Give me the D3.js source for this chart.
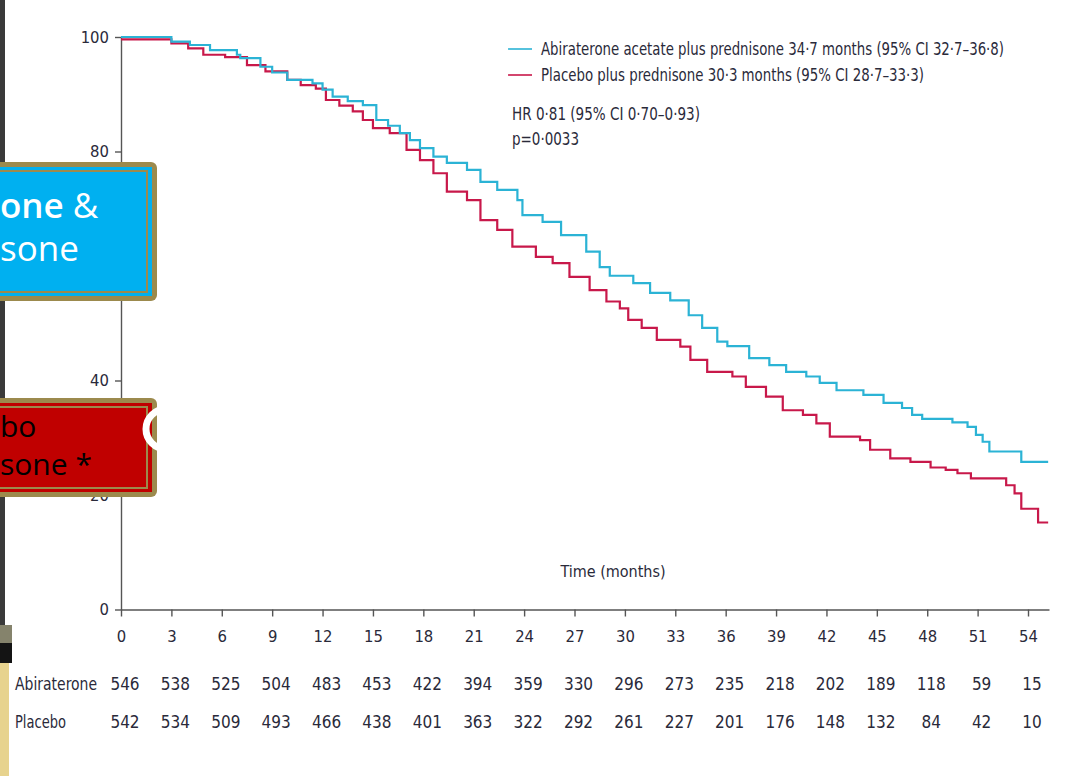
<!DOCTYPE html>
<html>
<head>
<meta charset="utf-8">
<script src="https://cdn.jsdelivr.net/npm/d3@7"></script>
<style>
  body { margin: 0; background: #fff; }
  svg { display: block; }
  .narrow { font-family: "Liberation Sans Narrow", "DejaVu Sans Condensed", "Roboto Condensed", sans-serif; }
</style>
</head>
<body>
<div id="wrapper"></div>
<script>
// survival steps: [month, % alive]
const abiraterone = [
  [0, 100], [3.0, 99.2], [4.1, 98.6], [5.3, 97.7], [6.9, 96.9], [7.1, 96.3], [8.3, 94.8],
  [9.0, 93.8], [9.9, 92.5], [11.4, 91.9], [12.0, 90.8], [12.6, 89.6], [13.5, 88.8],
  [14.4, 88.1], [15.2, 85.5], [15.9, 84.5], [16.6, 83.2], [17.2, 82.0], [17.8, 80.6],
  [18.6, 79.1], [19.4, 78.0], [20.6, 76.8], [21.4, 74.7], [22.4, 73.3], [23.6, 71.5],
  [23.9, 68.9], [25.1, 67.7], [26.2, 65.4], [27.7, 62.5], [28.5, 59.8], [29.1, 58.3],
  [30.5, 57.0], [31.5, 55.3], [32.7, 54.0], [33.8, 51.4], [34.6, 49.2], [35.5, 46.8],
  [36.1, 46.0], [37.4, 43.9], [38.6, 42.7], [39.6, 41.5], [40.8, 40.7], [41.6, 39.6],
  [42.6, 38.3], [44.2, 37.5], [45.4, 36.1], [46.5, 35.2], [47.1, 34.0], [47.7, 33.3],
  [49.5, 32.7], [50.4, 31.9], [50.9, 30.5], [51.3, 29.3], [51.7, 27.6], [53.6, 25.8],
  [55.2, 25.8]
]
const placebo = [
  [0, 99.6], [3.0, 98.9], [4.0, 98.0], [4.9, 96.9], [6.2, 96.5], [7.5, 95.1], [8.6, 94.0],
  [9.9, 92.5], [10.7, 91.6], [11.6, 91.0], [12.2, 89.0], [13.0, 88.0], [13.8, 87.0],
  [14.4, 85.5], [15.0, 84.1], [16.0, 83.2], [17.0, 80.3], [17.8, 78.5], [18.6, 76.2],
  [19.4, 73.0], [20.6, 71.5], [21.4, 68.0], [22.4, 66.3], [23.3, 63.4], [24.7, 61.6],
  [25.7, 60.5], [26.7, 58.1], [27.9, 55.8], [28.9, 53.8], [29.7, 52.6], [30.2, 50.6],
  [31.0, 49.2], [31.9, 47.1], [33.3, 45.9], [33.9, 43.6], [34.9, 41.5], [36.4, 40.7],
  [37.2, 38.9], [38.4, 37.2], [39.4, 34.8], [40.6, 34.0], [41.4, 32.5], [42.2, 30.2],
  [44.0, 29.6], [44.6, 27.9], [45.8, 26.4], [47.0, 25.8], [48.2, 24.8], [49.1, 24.4],
  [49.8, 23.8], [50.6, 22.9], [52.7, 21.7], [53.2, 20.3], [53.6, 17.6], [54.6, 15.2],
  [55.2, 15.2]
]

const monthTicks = d3.range(0, 55, 3)
const pctTicks = [0, 20, 40, 60, 80, 100]
const atRiskAbi = [546, 538, 525, 504, 483, 453, 422, 394, 359, 330, 296, 273, 235, 218, 202, 189, 118, 59, 15]
const atRiskPla = [542, 534, 509, 493, 466, 438, 401, 363, 322, 292, 261, 227, 201, 176, 148, 132, 84, 42, 10]

const legendRows = [
  {label: "Abiraterone acetate plus prednisone 34·7 months (95% CI 32·7–36·8)", color: "#2bb3d5", len: 463},
  {label: "Placebo plus prednisone 30·3 months (95% CI 28·7–33·3)", color: "#c8184a", len: 383}
]
const statLines = [
  {label: "HR 0·81 (95% CI 0·70–0·93)", len: 188},
  {label: "p=0·0033", len: 67}
]

const width = 1073, height = 776

const svg = d3.select("#wrapper")
  .append("svg")
    .attr("width", width)
    .attr("height", height)

const x = d3.scaleLinear().domain([0, 55.25]).range([121, 1049])
const y = d3.scaleLinear().domain([0, 100]).range([609.5, 37])

// axes
svg.append("g")
  .attr("transform", "translate(121,0)")
  .call(d3.axisLeft(y).tickValues(pctTicks).tickSize(6).tickSizeOuter(0).tickPadding(6))
svg.append("g")
  .attr("transform", "translate(0,609.5)")
  .call(d3.axisBottom(x).tickValues(monthTicks).tickSize(7).tickSizeOuter(0).tickPadding(14))

svg.selectAll(".domain, .tick line")
  .attr("stroke", "#555")
  .attr("stroke-width", 1.4)
svg.selectAll(".tick text")
  .attr("class", "narrow")
  .attr("font-size", 16.5)
  .attr("fill", "#2a2a3a")

svg.append("text")
  .attr("class", "narrow")
  .attr("x", 613).attr("y", 577)
  .attr("text-anchor", "middle")
  .attr("font-size", 16)
  .attr("fill", "#2a2a3a")
  .text("Time (months)")

// curves
const line = d3.line()
  .x(d => x(d[0]))
  .y(d => y(d[1]))
  .curve(d3.curveStepAfter)

svg.append("path")
  .datum(placebo)
  .attr("d", line)
  .attr("fill", "none")
  .attr("stroke", legendRows[1].color)
  .attr("stroke-width", 2.2)
svg.append("path")
  .datum(abiraterone)
  .attr("d", line)
  .attr("fill", "none")
  .attr("stroke", legendRows[0].color)
  .attr("stroke-width", 2.2)

// legend
const legend = svg.append("g")
legend.selectAll("line")
  .data(legendRows)
  .join("line")
    .attr("x1", 508).attr("x2", 532)
    .attr("y1", (d, i) => 49 + i * 26)
    .attr("y2", (d, i) => 49 + i * 26)
    .attr("stroke", d => d.color)
    .attr("stroke-width", 1.6)
legend.selectAll("text.lab")
  .data(legendRows)
  .join("text")
    .attr("class", "lab narrow")
    .attr("x", 541)
    .attr("y", (d, i) => 55 + i * 26)
    .attr("font-size", 17)
    .attr("fill", "#2a2a3a")
    .attr("textLength", d => d.len)
    .attr("lengthAdjust", "spacingAndGlyphs")
    .text(d => d.label)
legend.selectAll("text.stat")
  .data(statLines)
  .join("text")
    .attr("class", "stat narrow")
    .attr("x", 512)
    .attr("y", (d, i) => 120 + i * 25)
    .attr("font-size", 17)
    .attr("fill", "#2a2a3a")
    .attr("textLength", d => d.len)
    .attr("lengthAdjust", "spacingAndGlyphs")
    .text(d => d.label)

// numbers at risk
const riskRows = [
  {name: "Abiraterone", vals: atRiskAbi, y: 690, len: 82},
  {name: "Placebo", vals: atRiskPla, y: 728, len: 51}
]
riskRows.forEach(row => {
  svg.append("text")
    .attr("class", "narrow")
    .attr("x", 15).attr("y", row.y)
    .attr("font-size", 17)
    .attr("fill", "#2a2a3a")
    .attr("textLength", row.len)
    .attr("lengthAdjust", "spacingAndGlyphs")
    .text(row.name)
  svg.selectAll(null)
    .data(row.vals)
    .join("text")
      .attr("class", "narrow")
      .attr("x", (d, i) => x(monthTicks[i]) + 4)
      .attr("y", row.y)
      .attr("text-anchor", "middle")
      .attr("font-size", 17)
      .attr("fill", "#2a2a3a")
      .text(d => d)
})

// slide decorations along the left edge
const deco = svg.append("g")
deco.append("rect").attr("x", 0).attr("y", 0).attr("width", 5).attr("height", 625).attr("fill", "#3a3a3a")
deco.append("rect").attr("x", 0).attr("y", 625).attr("width", 12).attr("height", 18).attr("fill", "#85836c")
deco.append("rect").attr("x", 0).attr("y", 643).attr("width", 12).attr("height", 20).attr("fill", "#141414")
deco.append("rect").attr("x", 0).attr("y", 663).attr("width", 9).attr("height", 113).attr("fill", "#e7d38e")

function labelBox(top, bottom, fill) {
  const g = svg.append("g")
  g.append("rect")
    .attr("x", -30).attr("y", top)
    .attr("width", 187).attr("height", bottom - top)
    .attr("rx", 6)
    .attr("fill", "#9c8a4d")
  g.append("rect")
    .attr("x", -30).attr("y", top + 5)
    .attr("width", 182).attr("height", bottom - top - 10)
    .attr("fill", fill)
  g.append("rect")
    .attr("x", -30).attr("y", top + 9)
    .attr("width", 177).attr("height", bottom - top - 18)
    .attr("fill", "none")
    .attr("stroke", "#9c8a4d")
    .attr("stroke-width", 2)
  return g
}

// only the right-hand part of each box label shows inside the window
const blueBox = labelBox(162, 301, "#00b0f0")
const blueText = blueBox.append("text")
  .attr("font-family", "'Open Sans', 'Noto Sans', sans-serif")
  .attr("font-size", 35)
  .attr("fill", "#fff")
blueText.append("tspan").attr("x", 0).attr("y", 218)
  .attr("font-weight", 600).text("one")
blueText.append("tspan").text(" &")
blueText.append("tspan").attr("x", 0).attr("y", 261).text("sone")

const redBox = labelBox(398, 497, "#c00000")
const redText = redBox.append("text")
  .attr("font-family", "'Open Sans', 'Noto Sans', sans-serif")
  .attr("font-size", 30)
  .attr("fill", "#000")
redText.append("tspan").attr("x", 0).attr("y", 437).text("bo")
redText.append("tspan").attr("x", 0).attr("y", 475).text("sone *")

// white ring peeking over the red box edge
svg.append("circle")
  .attr("cx", 166).attr("cy", 429).attr("r", 20)
  .attr("fill", "none")
  .attr("stroke", "#fff")
  .attr("stroke-width", 7)
</script>
</body>
</html>
